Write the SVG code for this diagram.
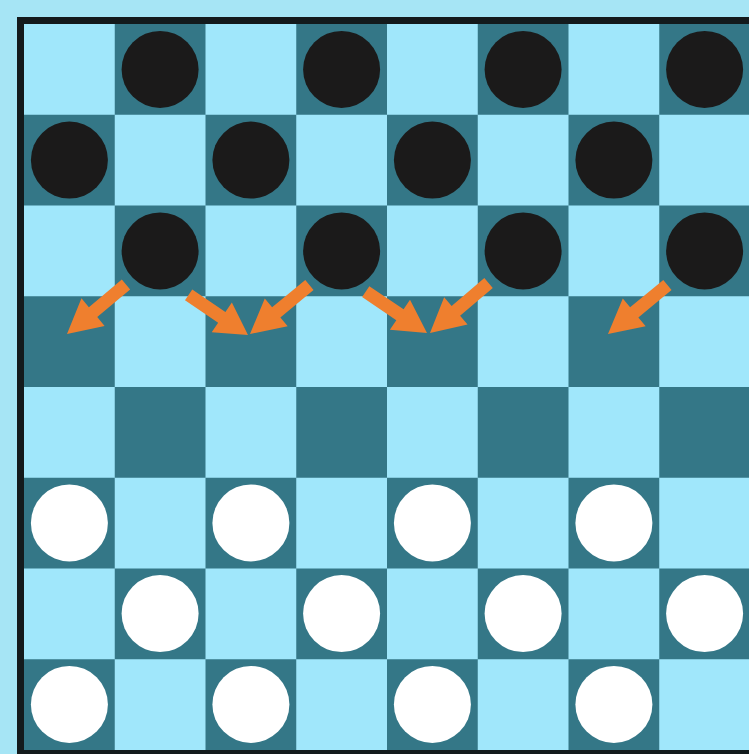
<svg xmlns="http://www.w3.org/2000/svg" xmlns:xlink="http://www.w3.org/1999/xlink" width="749" height="754" viewBox="0 0 749 754">
<style>
.l{fill:#a0e7fb}
.d{fill:#347787}
.b{fill:#1b1a1a}
.w{fill:#ffffff}
.a{fill:#ef7f2e}
</style>
<defs>
<path id="arr" d="M0,0 L-34,18 L-34,6.5 L-77,6.5 L-77,-6.5 L-34,-6.5 L-34,-18 Z"/>
<pattern id="board" x="24" y="24" width="181.5" height="181.5" patternUnits="userSpaceOnUse">
<rect width="181.5" height="181.5" fill="#a0e7fb"/>
<rect x="90.75" y="0" width="90.75" height="90.75" fill="#347787"/>
<rect x="0" y="90.75" width="90.75" height="90.75" fill="#347787"/>
</pattern>
</defs>
<rect width="749" height="754" fill="#a6e5f5"/>
<rect x="17" y="17" width="740" height="740" fill="#131a1c"/>
<g id="board-squares">
<rect x="24" y="24" width="726" height="726" fill="url(#board)"/>
</g>
<g id="black-pieces">
<circle class="b" cx="160.1" cy="69.4" r="38.5"/>
<circle class="b" cx="341.6" cy="69.4" r="38.5"/>
<circle class="b" cx="523.1" cy="69.4" r="38.5"/>
<circle class="b" cx="704.6" cy="69.4" r="38.5"/>
<circle class="b" cx="69.4" cy="160.1" r="38.5"/>
<circle class="b" cx="250.9" cy="160.1" r="38.5"/>
<circle class="b" cx="432.4" cy="160.1" r="38.5"/>
<circle class="b" cx="613.9" cy="160.1" r="38.5"/>
<circle class="b" cx="160.1" cy="250.9" r="38.5"/>
<circle class="b" cx="341.6" cy="250.9" r="38.5"/>
<circle class="b" cx="523.1" cy="250.9" r="38.5"/>
<circle class="b" cx="704.6" cy="250.9" r="38.5"/>
</g>
<g id="white-pieces">
<circle class="w" cx="69.4" cy="522.9" r="38.5"/>
<circle class="w" cx="250.9" cy="522.9" r="38.5"/>
<circle class="w" cx="432.4" cy="522.9" r="38.5"/>
<circle class="w" cx="613.9" cy="522.9" r="38.5"/>
<circle class="w" cx="160.1" cy="613.6" r="38.5"/>
<circle class="w" cx="341.6" cy="613.6" r="38.5"/>
<circle class="w" cx="523.1" cy="613.6" r="38.5"/>
<circle class="w" cx="704.6" cy="613.6" r="38.5"/>
<circle class="w" cx="69.4" cy="704.4" r="38.5"/>
<circle class="w" cx="250.9" cy="704.4" r="38.5"/>
<circle class="w" cx="432.4" cy="704.4" r="38.5"/>
<circle class="w" cx="613.9" cy="704.4" r="38.5"/>
</g>
<g id="arrows">
<use xlink:href="#arr" class="a" transform="translate(67,334) rotate(140)"/>
<use xlink:href="#arr" class="a" transform="translate(248,335) rotate(34) scale(0.93,1)"/>
<use xlink:href="#arr" class="a" transform="translate(250,334) rotate(140.5)"/>
<use xlink:href="#arr" class="a" transform="translate(427,333) rotate(34) scale(0.96,1)"/>
<use xlink:href="#arr" class="a" transform="translate(430,333) rotate(139.5)"/>
<use xlink:href="#arr" class="a" transform="translate(608,334) rotate(140.5)"/>
</g>
</svg>
